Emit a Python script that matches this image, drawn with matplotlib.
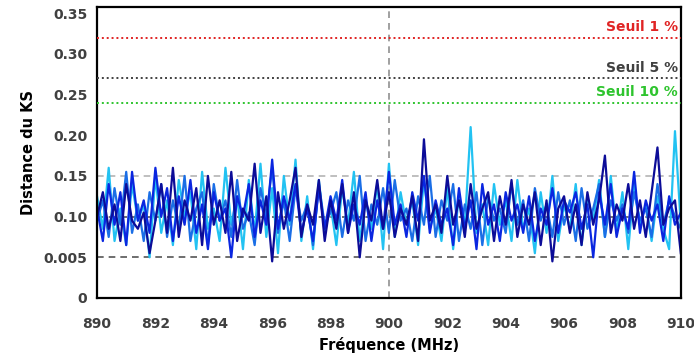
import numpy as np
import matplotlib.pyplot as plt

freq = np.round(np.arange(890, 910.0001, 0.2), 1)

cyan = [
    0.125, 0.085, 0.160, 0.070, 0.110, 0.065, 0.140, 0.095, 0.115, 0.050,
    0.150, 0.080, 0.120, 0.065, 0.145, 0.100, 0.130, 0.060, 0.155, 0.085,
    0.110, 0.070, 0.160, 0.090, 0.125, 0.060, 0.145, 0.080, 0.165, 0.075,
    0.135, 0.055, 0.150, 0.090, 0.170, 0.070, 0.125, 0.060, 0.145, 0.080,
    0.115, 0.065, 0.135, 0.090, 0.155, 0.070, 0.120, 0.085, 0.140, 0.060,
    0.165, 0.075, 0.130, 0.090, 0.120, 0.065, 0.145, 0.085, 0.110, 0.070,
    0.135, 0.060, 0.125, 0.090, 0.210, 0.080, 0.115, 0.065, 0.140, 0.090,
    0.120, 0.070, 0.145, 0.085, 0.110, 0.055, 0.130, 0.080, 0.150, 0.070,
    0.115, 0.085, 0.140, 0.065, 0.125, 0.095, 0.145, 0.075, 0.150, 0.080,
    0.130, 0.060, 0.140, 0.090, 0.115, 0.070, 0.125, 0.085, 0.060, 0.205,
    0.090]

mid = [
    0.095, 0.120, 0.075, 0.135, 0.090, 0.155, 0.080, 0.115, 0.070, 0.130,
    0.095, 0.140, 0.075, 0.120, 0.085, 0.150, 0.070, 0.110, 0.130, 0.065,
    0.140, 0.095, 0.120, 0.075, 0.145, 0.085, 0.105, 0.065, 0.135, 0.100,
    0.160, 0.080, 0.120, 0.070, 0.135, 0.095, 0.115, 0.065, 0.140, 0.090,
    0.105, 0.130, 0.075, 0.120, 0.095, 0.150, 0.070, 0.115, 0.090, 0.135,
    0.080, 0.145, 0.095, 0.110, 0.070, 0.125, 0.090, 0.150, 0.075, 0.120,
    0.095, 0.140, 0.070, 0.115, 0.085, 0.130, 0.065, 0.125, 0.095, 0.110,
    0.080, 0.140, 0.090, 0.120, 0.070, 0.135, 0.095, 0.115, 0.075, 0.130,
    0.090, 0.120, 0.070, 0.135, 0.085, 0.110, 0.140, 0.075, 0.120, 0.095,
    0.115, 0.080, 0.130, 0.095, 0.110, 0.075, 0.140, 0.090, 0.120, 0.100,
    0.085]

blue = [
    0.110, 0.070, 0.140, 0.090, 0.130, 0.065, 0.155, 0.095, 0.120, 0.080,
    0.160, 0.100, 0.135, 0.070, 0.125, 0.090, 0.145, 0.080, 0.115, 0.060,
    0.130, 0.095, 0.110, 0.050, 0.125, 0.100, 0.140, 0.075, 0.120, 0.090,
    0.170, 0.085, 0.125, 0.095, 0.140, 0.080, 0.110, 0.070, 0.135, 0.085,
    0.125, 0.095, 0.145, 0.080, 0.115, 0.090, 0.130, 0.070, 0.120, 0.085,
    0.155, 0.090, 0.115, 0.075, 0.130, 0.095, 0.150, 0.080, 0.120, 0.090,
    0.110, 0.065, 0.135, 0.085, 0.120, 0.060, 0.140, 0.090, 0.115, 0.070,
    0.130, 0.095, 0.115, 0.080, 0.125, 0.070, 0.110, 0.090, 0.135, 0.080,
    0.120, 0.105, 0.130, 0.085, 0.115, 0.050, 0.130, 0.090, 0.140, 0.075,
    0.110, 0.085, 0.155, 0.080, 0.120, 0.095, 0.115, 0.070, 0.125, 0.090,
    0.105]

navy = [
    0.100, 0.130, 0.085, 0.115, 0.070, 0.140, 0.095, 0.085, 0.105, 0.055,
    0.095, 0.140, 0.080, 0.160, 0.075, 0.120, 0.095, 0.135, 0.065, 0.150,
    0.090, 0.120, 0.080, 0.155, 0.070, 0.110, 0.095, 0.165, 0.080, 0.125,
    0.045, 0.130, 0.085, 0.120, 0.160, 0.075, 0.115, 0.090, 0.145, 0.070,
    0.120, 0.085, 0.140, 0.080, 0.130, 0.050, 0.120, 0.095, 0.145, 0.085,
    0.130, 0.075, 0.110, 0.090, 0.125, 0.070, 0.195, 0.095, 0.115, 0.080,
    0.150, 0.090, 0.120, 0.075, 0.140, 0.085, 0.110, 0.130, 0.070, 0.125,
    0.090, 0.145, 0.075, 0.115, 0.090, 0.130, 0.065, 0.120, 0.045, 0.110,
    0.125, 0.080, 0.115, 0.065, 0.130, 0.090, 0.120, 0.175, 0.080, 0.115,
    0.095, 0.140, 0.085, 0.120, 0.075, 0.130, 0.185, 0.090, 0.110, 0.120,
    0.055]

series_colors = ['#22c2f2', '#1a6ee6', '#0a26e0', '#0c0c98']

seuils = [0.32, 0.27, 0.24]
seuil_labels = ['Seuil 1 %', 'Seuil 5 %', 'Seuil 10 %']
seuil_colors = ['#e02424', '#404040', '#2ec42e']

yticks = [0, 0.05, 0.10, 0.15, 0.20, 0.25, 0.30, 0.35]
ytick_labels = ['0', '0.005', '0.10', '0.15', '0.20', '0.25', '0.30', '0.35']
xticks = list(range(890, 911, 2))

fig = plt.figure(figsize=(6.94, 3.58), dpi=100)
ax = fig.add_axes([0.1398, 0.1676, 0.8412, 0.8128])

# grille
ax.axhline(0.15, color='#b4b4b4', ls=(0, (4, 3)), lw=1.2, zorder=1)
ax.axhline(0.10, color='#555555', ls=(0, (4, 3)), lw=1.2, zorder=1)
ax.axhline(0.05, color='#555555', ls=(0, (4, 3)), lw=1.2, zorder=1)
ax.axvline(900, color='#909090', ls=(0, (4, 3)), lw=1.2, zorder=1)

for vals, c in zip([cyan, mid, blue, navy], series_colors):
    ax.plot(freq, vals, color=c, lw=1.6, zorder=2)

for s, lab, c in zip(seuils, seuil_labels, seuil_colors):
    ax.axhline(s, color=c, ls=(0, (1, 1.5)), lw=1.4, zorder=3)
    ax.text(909.9, s + 0.004, lab, color=c, fontsize=10, fontweight='bold',
            ha='right', va='bottom')

ax.set_xlim(890, 910)
ax.set_ylim(0, 0.3575)
ax.set_yticks(yticks)
ax.set_yticklabels(ytick_labels)
ax.set_xticks(xticks)
ax.tick_params(length=0, labelsize=10, labelcolor='#404040')
ax.tick_params(axis='x', pad=14)
ax.tick_params(axis='y', pad=7)
for t in ax.get_xticklabels() + ax.get_yticklabels():
    t.set_fontweight('bold')
for sp in ax.spines.values():
    sp.set_linewidth(1.6)
    sp.set_color('black')

ax.set_xlabel('Fréquence (MHz)', fontsize=10.5, fontweight='bold', labelpad=4)
ax.set_ylabel('Distance du KS', fontsize=10.5, fontweight='bold', labelpad=5)

fig.savefig('out.png', dpi=100)
